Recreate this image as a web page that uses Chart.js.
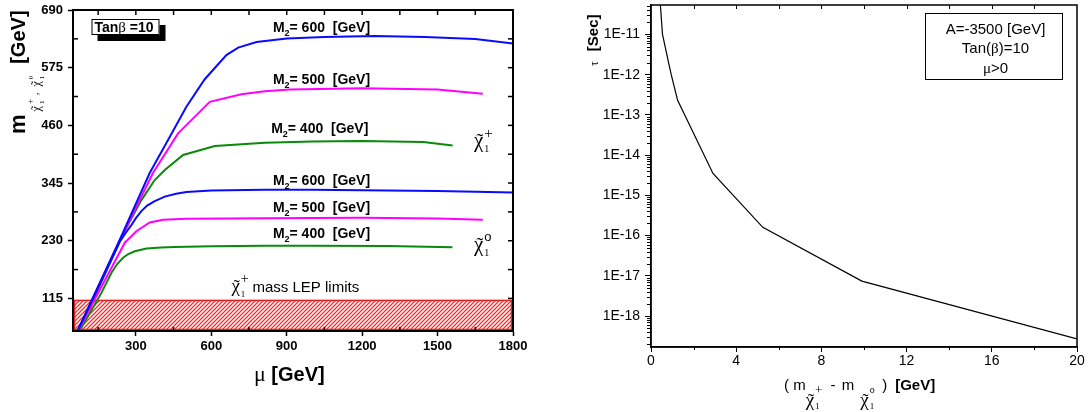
<!DOCTYPE html>
<html>
<head>
<meta charset="utf-8">
<script src="https://cdn.jsdelivr.net/npm/chart.js@4.4.1/dist/chart.umd.min.js"></script>
<style>
  html, body { margin: 0; padding: 0; background: #fff; }
  #wrap { position: relative; width: 1091px; height: 412px; overflow: hidden; background: #fff; }
  #massChart { position: absolute; left: 0; top: 0; }
  #lifeChart { position: absolute; left: 545px; top: 0; }
</style>
</head>
<body>
<div id="wrap">
  <canvas id="massChart" width="545" height="412"></canvas>
  <canvas id="lifeChart" width="546" height="412"></canvas>
</div>
<script>
// ---------- μ scan: lightest chargino / neutralino masses, tanβ = 10 ----------
const muTicks = [300, 600, 900, 1200, 1500, 1800];
const massTicks = [115, 230, 345, 460, 575, 690];
const muMinorTicks = [150, 450, 750, 1050, 1350, 1650];
const muTopTicks = [150, 300, 450, 600, 750, 900, 1050, 1200, 1350, 1500, 1650];
const massMinorTicks = [172.5, 287.5, 402.5, 517.5, 632.5];
const massRightTicks = [115, 172.5, 230, 287.5, 345, 402.5, 460, 517.5, 575, 632.5];

// chargino, M2 = 600 / 500 / 400 GeV
const muC600 = [68, 236, 355, 428, 501, 574, 660, 707, 780, 900, 1050, 1250, 1450, 1650, 1800];
const mC600  = [50, 232, 365, 431, 497, 552, 600, 615, 626, 633, 636, 638, 636, 632, 623];
const muC500 = [70, 236, 368, 468, 594, 720, 813, 911, 1200, 1500, 1680];
const mC500  = [50, 230, 365, 444, 507, 522, 528, 531.5, 534, 531.5, 523];
const muC400 = [74, 256, 322, 375, 415, 488, 614, 813, 1000, 1200, 1443, 1560];
const mC400  = [50, 250, 311, 351, 371, 401, 419, 425.5, 428, 429, 427, 420];
// neutralino, M2 = 600 / 500 / 400 GeV
const muN600 = [68, 236, 260, 282, 300, 322, 345, 375, 415, 460, 501, 600, 813, 1000, 1200, 1500, 1800];
const mN600  = [50, 228, 246, 261, 275, 289, 300, 309, 318, 323.5, 327, 330, 331.5, 331.5, 330.5, 329, 326];
const muN500 = [70, 256, 302, 355, 408, 500, 813, 1000, 1200, 1500, 1680];
const mN500  = [50, 226, 249, 266.5, 272, 274, 275, 275.5, 275.6, 274.5, 271.6];
const muN400 = [76, 163, 203, 225, 249, 270, 295.5, 342, 400, 455, 600, 813, 1000, 1300, 1559];
const mN400  = [50, 126, 166, 183, 196, 203.5, 209, 214.3, 216.5, 217.7, 219, 220, 220, 219.5, 216.8];

// chargino mass excluded by LEP (GeV)
const lepBand = [50, 111];

// ---------- chargino lifetime vs. mass splitting ----------
const deltaM = [0.44, 0.54, 0.8, 0.95, 1.25, 2.91, 5.25, 9.9, 20];
const tau    = [5.4e-11, 1e-11, 2.3e-12, 1e-12, 2.3e-13, 3.5e-15, 1.6e-16, 7.4e-18, 2.7e-19];
const dmTicks = [0, 4, 8, 12, 16, 20];
const dmMinorTicks = [2, 6, 10, 14, 18];
const dmTopTicks = [2, 4, 6, 8, 10, 12, 14, 16, 18];
const tauTickExps = [-18, -17, -16, -15, -14, -13, -12, -11];

const SANS = '"Liberation Sans", Arial, sans-serif';
const SERIF = '"Liberation Serif", "Times New Roman", serif';
const BLUE = '#0a0aff', MAGENTA = '#ff00ff', GREEN = '#0a8a0a';

// draws a run of differently styled pieces (sub/superscripts, tilde accents)
function drawRuns(ctx, x, y, runs) {
  let cx = x;
  ctx.textAlign = 'left';
  ctx.textBaseline = 'alphabetic';
  for (const r of runs) {
    ctx.font = r.f;
    ctx.fillStyle = r.c || '#000';
    const px = cx + (r.dx || 0);
    const w = ctx.measureText(r.t).width;
    ctx.fillText(r.t, px, y + (r.dy || 0));
    if (r.tilde) {
      const tw = ctx.measureText('\u02DC').width;
      ctx.fillText('\u02DC', px + (w - tw) / 2 + 1, y + (r.dy || 0) + (r.tdy || 0));
    }
    if (!r.hold) cx = px + w;
  }
  return cx - x;
}

function tick(ctx, x1, y1, x2, y2) {
  ctx.beginPath(); ctx.moveTo(x1, y1); ctx.lineTo(x2, y2); ctx.stroke();
}

function hatchPattern(ctx) {
  const c = document.createElement('canvas');
  c.width = 4; c.height = 4;
  const g = c.getContext('2d');
  g.fillStyle = '#ffffff'; g.fillRect(0, 0, 4, 4);
  g.strokeStyle = '#ee3030'; g.lineWidth = 1.3;
  g.beginPath();
  g.moveTo(-1, 5); g.lineTo(5, -1);
  g.moveTo(-1, 1); g.lineTo(1, -1);
  g.moveTo(3, 5); g.lineTo(5, 3);
  g.stroke();
  return ctx.createPattern(c, 'repeat');
}

function curve(mu, m, color) {
  return {
    data: mu.map((v, i) => ({ x: v, y: m[i] })),
    borderColor: color, borderWidth: 2, showLine: true,
    pointRadius: 0, fill: false, tension: 0
  };
}

function zeroPad(s) { s.paddingLeft = 0; s.paddingRight = 0; s.paddingTop = 0; s.paddingBottom = 0; }

const massDecor = {
  id: 'massDecor',
  beforeDatasetsDraw(chart) {
    const { ctx, chartArea: a, scales: { y } } = chart;
    const top = y.getPixelForValue(lepBand[1]);
    const bot = y.getPixelForValue(lepBand[0]);
    ctx.save();
    ctx.fillStyle = hatchPattern(ctx);
    ctx.fillRect(a.left, top, a.right - a.left, bot - top);
    ctx.strokeStyle = '#e82020'; ctx.lineWidth = 1.5;
    ctx.strokeRect(a.left + 1.5, top, a.right - a.left - 3, bot - top - 1.5);
    ctx.restore();
  },
  afterDatasetsDraw(chart) {
    const { ctx, chartArea: a, scales: { x, y } } = chart;
    ctx.save();
    ctx.strokeStyle = '#000'; ctx.lineWidth = 2;
    ctx.strokeRect(a.left, a.top, a.right - a.left, a.bottom - a.top);
    ctx.lineWidth = 1.5;
    massMinorTicks.forEach(v => { const p = y.getPixelForValue(v); tick(ctx, a.left, p, a.left + 5, p); });
    massRightTicks.forEach(v => { const p = y.getPixelForValue(v); tick(ctx, a.right, p, a.right - 5, p); });
    muMinorTicks.forEach(v => { const p = x.getPixelForValue(v); tick(ctx, p, a.bottom, p, a.bottom - 4); });
    muTopTicks.forEach(v => { const p = x.getPixelForValue(v); tick(ctx, p, a.top, p, a.top + 5); });

    // curve annotations
    const B14 = 'bold 14px ' + SANS, B9 = 'bold 9px ' + SANS;
    const notes = [
      [845, 646, '600'], [845, 543, '500'], [838, 445, '400'],
      [845, 342, '600'], [845, 288, '500'], [845, 236, '400']
    ];
    notes.forEach(([mu, m, v]) => {
      drawRuns(ctx, x.getPixelForValue(mu), y.getPixelForValue(m), [
        { t: 'M', f: B14 }, { t: '2', f: B9, dy: 4 }, { t: '= ' + v + '  [GeV]', f: B14 }
      ]);
    });
    const chi = (mu, m, sup, supF, supDy) => drawRuns(ctx, x.getPixelForValue(mu), y.getPixelForValue(m), [
      { t: '\u03C7', f: '21px ' + SERIF, tilde: true, tdy: 1 },
      { t: sup, f: supF, dy: supDy, hold: true, dx: 1 },
      { t: '1', f: '10px ' + SERIF, dy: 5, dx: 1 }
    ]);
    chi(1645, 417, '+', '15px ' + SERIF, -9);
    chi(1645, 210, 'o', '13px ' + SANS, -10);

    drawRuns(ctx, x.getPixelForValue(680), y.getPixelForValue(127), [
      { t: '\u03C7', f: '19px ' + SERIF, tilde: true, tdy: 1 },
      { t: '+', f: '14px ' + SERIF, dy: -9, hold: true, dx: 1 },
      { t: '1', f: '9px ' + SERIF, dy: 5, dx: 1 },
      { t: ' mass LEP limits', f: '15px ' + SANS, dx: 3 }
    ]);

    // tanβ box with drop shadow
    const bx = a.left + 18.5, by = a.top + 9, bw = 68, bh = 16;
    ctx.fillStyle = '#000';
    ctx.fillRect(bx + 6, by + 6, bw, bh);
    ctx.fillStyle = '#fff';
    ctx.fillRect(bx, by, bw, bh);
    ctx.lineWidth = 1; ctx.strokeStyle = '#000';
    ctx.strokeRect(bx + 0.5, by + 0.5, bw - 1, bh - 1);
    drawRuns(ctx, bx + 3, by + 13, [
      { t: 'Tan', f: B14 }, { t: '\u03B2', f: '15px ' + SERIF }, { t: ' =10', f: B14 }
    ]);

    // axis titles
    drawRuns(ctx, 254, 381, [
      { t: '\u03BC', f: '22px ' + SERIF }, { t: ' [GeV]', f: 'bold 20px ' + SANS }
    ]);
    ctx.translate(25, 134);
    ctx.rotate(-Math.PI / 2);
    drawRuns(ctx, 0, 0, [
      { t: 'm', f: 'bold 22px ' + SANS },
      { t: '\u03C7', f: '12px ' + SERIF, dy: 15, dx: 3, tilde: true },
      { t: '+', f: '9px ' + SERIF, dy: 8, hold: true, dx: 2 },
      { t: '1', f: '7px ' + SERIF, dy: 19, dx: 2 },
      { t: ' ,', f: '10px ' + SERIF, dy: 13, dx: 3 },
      { t: '\u03C7', f: '12px ' + SERIF, dy: 15, dx: 6, tilde: true },
      { t: '0', f: '7px ' + SERIF, dy: 8, hold: true, dx: 2 },
      { t: '1', f: '7px ' + SERIF, dy: 19, dx: 2 },
      { t: '[GeV]', f: 'bold 20px ' + SANS, dx: 12 }
    ]);
    ctx.restore();
  }
};

const tickFontBold = { family: SANS, size: 13, weight: 'bold' };

new Chart(document.getElementById('massChart'), {
  type: 'scatter',
  data: {
    datasets: [
      curve(muC600, mC600, BLUE),
      curve(muN600, mN600, BLUE),
      curve(muC500, mC500, MAGENTA),
      curve(muN500, mN500, MAGENTA),
      curve(muC400, mC400, GREEN),
      curve(muN400, mN400, GREEN)
    ]
  },
  options: {
    responsive: false, animation: false, events: [],
    layout: { padding: { left: 0, top: 10, right: 32, bottom: 0 } },
    plugins: { legend: { display: false }, tooltip: { enabled: false } },
    scales: {
      x: {
        type: 'linear', position: 'bottom', min: 50, max: 1800,
        afterBuildTicks: s => { s.ticks = muTicks.map(v => ({ value: v })); },
        afterFit: s => { s.height = 81; zeroPad(s); },
        grid: { display: true, drawOnChartArea: false, drawTicks: true, tickLength: 5, tickWidth: 1.5, tickColor: '#000' },
        border: { display: true, color: '#000', width: 2 },
        ticks: { font: tickFontBold, color: '#000', padding: 3, maxRotation: 0, autoSkip: false, callback: v => String(v) }
      },
      y: {
        type: 'linear', position: 'left', min: 50, max: 690,
        afterBuildTicks: s => { s.ticks = massTicks.map(v => ({ value: v })); },
        afterFit: s => { s.width = 73; zeroPad(s); },
        grid: { display: true, drawOnChartArea: false, drawTicks: true, tickLength: 5, tickWidth: 1.5, tickColor: '#000' },
        border: { display: true, color: '#000', width: 2 },
        ticks: { font: tickFontBold, color: '#000', padding: 5, autoSkip: false, callback: v => String(v) }
      }
    }
  },
  plugins: [massDecor]
});

const lifeDecor = {
  id: 'lifeDecor',
  afterDatasetsDraw(chart) {
    const { ctx, chartArea: a, scales: { x, y } } = chart;
    ctx.save();
    ctx.strokeStyle = '#000'; ctx.lineWidth = 1.5;
    ctx.strokeRect(a.left, a.top, a.right - a.left, a.bottom - a.top);
    ctx.lineWidth = 1;
    // log minor ticks on the left axis
    for (let e = -19; e <= -11; e++) {
      for (let k = 2; k <= 9; k++) {
        const v = k * Math.pow(10, e);
        if (v < y.min || v > y.max) continue;
        const p = Math.round(y.getPixelForValue(v)) + 0.5;
        tick(ctx, a.left, p, a.left - 4, p);
      }
    }
    dmMinorTicks.forEach(v => { const p = Math.round(x.getPixelForValue(v)) + 0.5; tick(ctx, p, a.bottom, p, a.bottom + 3); });
    dmTopTicks.forEach(v => { const p = Math.round(x.getPixelForValue(v)) + 0.5; tick(ctx, p, a.top, p, a.top + 4); });

    // parameter box
    const bx = a.left + 274, by = a.top + 8, bw = 137, bh = 66;
    ctx.strokeRect(bx + 0.5, by + 0.5, bw, bh);
    ctx.fillStyle = '#000';
    ctx.textAlign = 'center';
    ctx.font = '15px ' + SANS;
    const cx = bx + bw / 2 + 2;
    ctx.fillText('A=-3500 [GeV]', cx, by + 21);
    const l2 = [{ t: 'Tan(', f: '15px ' + SANS }, { t: '\u03B2', f: '15px ' + SERIF }, { t: ')=10', f: '15px ' + SANS }];
    let w2 = 0; l2.forEach(r => { ctx.font = r.f; w2 += ctx.measureText(r.t).width; });
    drawRuns(ctx, cx - w2 / 2, by + 40, l2);
    const l3 = [{ t: '\u03BC', f: '15px ' + SERIF }, { t: '>0', f: '15px ' + SANS }];
    let w3 = 0; l3.forEach(r => { ctx.font = r.f; w3 += ctx.measureText(r.t).width; });
    drawRuns(ctx, cx - w3 / 2, by + 60, l3);

    // x title
    const N15 = '15px ' + SANS;
    drawRuns(ctx, 239, 390, [
      { t: '( m', f: N15 },
      { t: '\u03C7', f: '19px ' + SERIF, dy: 16, tilde: true, tdy: 1 },
      { t: '+', f: '13px ' + SERIF, dy: 4, hold: true, dx: 1 },
      { t: '1', f: '9px ' + SERIF, dy: 19, dx: 1 },
      { t: '-', f: N15, dx: 11 },
      { t: ' m', f: N15, dx: 2 },
      { t: '\u03C7', f: '19px ' + SERIF, dy: 16, dx: 6, tilde: true, tdy: 1 },
      { t: 'o', f: '10px ' + SERIF, dy: 3, hold: true, dx: 1 },
      { t: '1', f: '9px ' + SERIF, dy: 19, dx: 1 },
      { t: ')', f: N15, dx: 8 },
      { t: '[GeV]', f: 'bold 15px ' + SANS, dx: 8 }
    ]);
    // y title
    ctx.translate(53, 66);
    ctx.rotate(-Math.PI / 2);
    drawRuns(ctx, 0, 0, [
      { t: '\u03C4', f: '12px ' + SERIF },
      { t: '[Sec]', f: 'bold 15px ' + SANS, dx: 10 }
    ]);
    ctx.restore();
  }
};

const tickFont = { family: SANS, size: 14 };

new Chart(document.getElementById('lifeChart'), {
  type: 'scatter',
  data: {
    datasets: [{
      data: deltaM.map((v, i) => ({ x: v, y: tau[i] })),
      borderColor: '#000', borderWidth: 1.2, showLine: true, pointRadius: 0, fill: false, tension: 0
    }]
  },
  options: {
    responsive: false, animation: false, events: [],
    layout: { padding: { left: 0, top: 5, right: 14, bottom: 0 } },
    plugins: { legend: { display: false }, tooltip: { enabled: false } },
    scales: {
      x: {
        type: 'linear', position: 'bottom', min: 0, max: 20,
        afterBuildTicks: s => { s.ticks = dmTicks.map(v => ({ value: v })); },
        afterFit: s => { s.height = 65; zeroPad(s); },
        grid: { display: true, drawOnChartArea: false, drawTicks: true, tickLength: 5, tickWidth: 1, tickColor: '#000' },
        border: { display: true, color: '#000', width: 1.5 },
        ticks: { font: tickFont, color: '#000', padding: 1, maxRotation: 0, autoSkip: false, callback: v => String(v) }
      },
      y: {
        type: 'logarithmic', position: 'left', min: 1.7e-19, max: 5.4e-11,
        afterBuildTicks: s => { s.ticks = tauTickExps.map(e => ({ value: Math.pow(10, e) })); },
        afterFit: s => { s.width = 106; zeroPad(s); },
        grid: { display: true, drawOnChartArea: false, drawTicks: true, tickLength: 6, tickWidth: 1, tickColor: '#000' },
        border: { display: true, color: '#000', width: 1.5 },
        ticks: {
          font: tickFont, color: '#000', padding: 5, autoSkip: false,
          callback: v => '1E' + Math.round(Math.log10(v))
        }
      }
    }
  },
  plugins: [lifeDecor]
});
</script>
</body>
</html>
